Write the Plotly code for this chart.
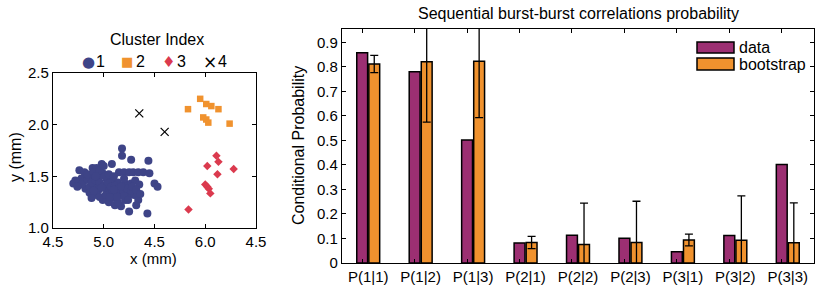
import plotly.graph_objects as go

# ---------------- data: cluster scatter ----------------
c1_x = [5.18, 5.18, 5.27, 5.44, 5.08, 4.98,
        5.15, 5.20, 5.25, 5.29, 5.34, 5.39, 5.45,
        4.76, 4.81, 4.89, 4.93, 4.99, 4.85, 4.89, 4.95, 4.78, 4.72, 4.70, 4.75,
        5.03, 5.09, 5.14, 5.21, 5.27, 5.31, 5.35, 5.50, 5.53,
        4.82, 4.86, 4.91, 4.95, 5.03, 5.07, 5.12, 5.17, 5.24, 5.30, 5.34,
        4.86, 4.93, 4.99, 5.05, 5.11, 5.17, 5.32, 5.25, 5.43,
        4.88, 4.96, 5.09, 5.14, 5.21,
        4.80, 4.84, 4.88, 4.92, 4.96, 5.00, 5.04, 5.07, 5.11, 5.15, 5.19, 5.23, 5.27,
        4.90, 4.98, 5.02, 5.06, 5.10, 5.13, 5.17, 4.84, 4.90, 4.96, 5.01, 5.05,
        4.78, 4.74, 5.20, 5.24, 5.28, 5.32, 5.36, 5.10, 5.20, 4.92, 5.00]
c1_y = [1.77, 1.70, 1.66, 1.65, 1.62, 1.62,
        1.54, 1.54, 1.54, 1.54, 1.54, 1.54, 1.53,
        1.56, 1.54, 1.58, 1.58, 1.53, 1.50, 1.51, 1.50, 1.48, 1.46, 1.43, 1.44,
        1.47, 1.46, 1.44, 1.43, 1.43, 1.46, 1.42, 1.43, 1.40,
        1.38, 1.40, 1.42, 1.37, 1.37, 1.35, 1.34, 1.32, 1.32, 1.32, 1.27,
        1.34, 1.32, 1.27, 1.25, 1.22, 1.21, 1.22, 1.16, 1.14,
        1.29, 1.30, 1.29, 1.25, 1.27,
        1.45, 1.47, 1.44, 1.46, 1.44, 1.41, 1.43, 1.40, 1.41, 1.38, 1.36, 1.38, 1.36,
        1.36, 1.39, 1.32, 1.30, 1.37, 1.30, 1.40, 1.52, 1.54, 1.56, 1.50, 1.52,
        1.42, 1.40, 1.31, 1.27, 1.40, 1.37, 1.33, 1.50, 1.48, 1.50, 1.60]

c2_x = [5.83, 5.95, 6.01, 6.06, 6.13, 5.98, 6.01, 6.03, 6.24]
c2_y = [2.15, 2.25, 2.20, 2.18, 2.15, 2.07, 2.05, 2.02, 2.01]

c3_x = [6.11, 6.13, 6.02, 6.28, 6.12, 6.00, 6.02, 6.035, 6.05, 5.835]
c3_y = [1.70, 1.64, 1.60, 1.57, 1.52, 1.42, 1.40, 1.38, 1.335, 1.18]

c4_x = [5.35, 5.60]
c4_y = [2.11, 1.93]

x_tickvals = [4.5, 5.0, 5.5, 6.0, 6.5]
x_ticktext = ["4.5", "5.0", "4.5", "6.0", "4.5"]
y_tickvals = [1.0, 1.5, 2.0, 2.5]

# ---------------- data: bar chart ----------------
categories = ["P(1|1)", "P(1|2)", "P(1|3)", "P(2|1)", "P(2|2)", "P(2|3)",
              "P(3|1)", "P(3|2)", "P(3|3)"]
data_vals = [0.858, 0.781, 0.502, 0.082, 0.113, 0.101, 0.046, 0.112, 0.402]
boot_vals = [0.812, 0.821, 0.823, 0.084, 0.076, 0.084, 0.094, 0.093, 0.083]
boot_err = [0.035, 0.246, 0.230, 0.025, 0.168, 0.168, 0.024, 0.181, 0.162]
bar_ytick = [0, 0.1, 0.2, 0.3, 0.4, 0.5, 0.6, 0.7, 0.8, 0.9]
bar_yticktext = ["0", "0.1", "0.2", "0.3", "0.4", "0.5", "0.6", "0.7", "0.8", "0.9"]

# ---------------- colours ----------------
BLUE = "#3E4487"
ORANGE = "#F0922E"
RED = "#DB3A4E"
PURPLE = "#9C2F72"
FONT = "Liberation Sans, Arial, sans-serif"

W, H = 821, 289


def px(x):
    return x / W


def py(y):
    return 1 - y / H


fig = go.Figure()

# scatter clusters
fig.add_trace(go.Scatter(x=c1_x, y=c1_y, mode="markers", name="1",
                         marker=dict(symbol="circle", size=8, color=BLUE, line=dict(width=0)),
                         xaxis="x", yaxis="y", showlegend=False))
fig.add_trace(go.Scatter(x=c2_x, y=c2_y, mode="markers", name="2",
                         marker=dict(symbol="square", size=6.5, color=ORANGE, line=dict(width=0)),
                         xaxis="x", yaxis="y", showlegend=False))
fig.add_trace(go.Scatter(x=c3_x, y=c3_y, mode="markers", name="3",
                         marker=dict(symbol="diamond", size=6.5, color=RED, line=dict(width=0)),
                         xaxis="x", yaxis="y", showlegend=False))
fig.add_trace(go.Scatter(x=c4_x, y=c4_y, mode="markers", name="4",
                         marker=dict(symbol="x-thin", size=8, color="black",
                                     line=dict(width=1.2, color="black")),
                         xaxis="x", yaxis="y", showlegend=False))

# bar chart
xpos = list(range(len(categories)))
fig.add_trace(go.Bar(x=xpos, y=data_vals, name="data", marker=dict(color=PURPLE,
                     line=dict(color="black", width=1.5)), xaxis="x2", yaxis="y2",
                     showlegend=False))
fig.add_trace(go.Bar(x=xpos, y=boot_vals, name="bootstrap", marker=dict(color=ORANGE,
                     line=dict(color="black", width=1.5)),
                     error_y=dict(type="data", array=boot_err, visible=True, color="black",
                                  thickness=1.3, width=4),
                     xaxis="x2", yaxis="y2", showlegend=False))

BARGAP = 0.54
GROUPGAP = 0.1
tick_off = (1 - BARGAP) / 4  # centre of first bar in group

axis_common = dict(showline=True, linecolor="black", linewidth=1.3, mirror="ticks",
                   ticks="inside", ticklen=4, tickwidth=1, tickcolor="black",
                   showgrid=False, zeroline=False, automargin=False,
                   tickfont=dict(family=FONT, size=15, color="black"))

fig.update_layout(
    template="none",
    width=W, height=H,
    margin=dict(l=0, r=0, t=0, b=0, pad=0),
    paper_bgcolor="white", plot_bgcolor="white",
    barmode="group", bargap=BARGAP, bargroupgap=GROUPGAP,
    font=dict(family=FONT, color="black"),
    xaxis=dict(domain=[px(53), px(256)], range=[4.5, 6.5], tickmode="array",
               tickvals=x_tickvals, ticktext=x_ticktext, anchor="y", **axis_common),
    yaxis=dict(domain=[py(228), py(73)], range=[1.0, 2.5], tickmode="array",
               tickvals=y_tickvals, tickformat=".1f", anchor="x", **axis_common),
    xaxis2=dict(domain=[px(342), px(814)], range=[-0.5, len(categories) - 0.5],
                tickmode="array", tickvals=[i - tick_off for i in xpos],
                ticktext=categories, ticklabelshift=6, anchor="y2", **axis_common),
    yaxis2=dict(domain=[py(263), py(29)], range=[0, 0.955], tickmode="array",
                tickvals=bar_ytick, ticktext=bar_yticktext, anchor="x2", **axis_common),
)


def note(text, x, y, size=16, color="black", family=FONT, angle=0, xanchor="center"):
    return dict(text=text, x=px(x), y=py(y), xref="paper", yref="paper",
                xanchor=xanchor, yanchor="middle", showarrow=False, textangle=angle,
                font=dict(size=size, color=color, family=family))


ann = [
    note("x (mm)", 153, 258, size=15),
    note("y (mm)", 15, 157, angle=-90),
    note("Cluster Index", 157, 39),
    note("Sequential burst-burst correlations probability", 578, 13, size=16),
    note("Conditional Probability", 298, 146, angle=-90),
    note("data", 737, 47.5, xanchor="left"),
    note("bootstrap", 737, 64, xanchor="left"),
]
legend_items = [("●", BLUE, 88, "1", 100, 15), ("■", ORANGE, 127, "2", 140, 13),
                ("♦", RED, 168, "3", 181, 15), ("×", "black", 210, "4", 222, 17)]
for sym, col, sx, lab, lx, ssz in legend_items:
    ann.append(note(sym, sx, 62, size=ssz, color=col, family="DejaVu Sans"))
    ann.append(note(lab, lx, 62))
fig.update_layout(annotations=ann)

fig.update_layout(shapes=[
    dict(type="rect", xref="paper", yref="paper", x0=px(697), x1=px(734), y0=py(53), y1=py(42),
         fillcolor=PURPLE, line=dict(color="black", width=1.5)),
    dict(type="rect", xref="paper", yref="paper", x0=px(697), x1=px(734), y0=py(70), y1=py(58),
         fillcolor=ORANGE, line=dict(color="black", width=1.5)),
])

fig.write_html("out.html", config={"displayModeBar": False},
               post_script="document.body.style.margin='0px';document.body.style.overflow='hidden';")
